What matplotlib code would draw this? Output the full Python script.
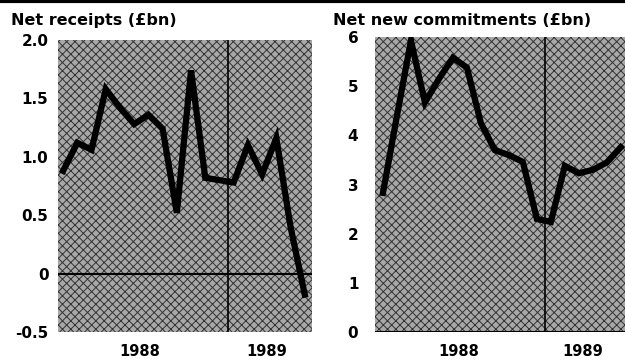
import matplotlib.pyplot as plt
from matplotlib.patches import Rectangle

# data (roughly monthly points, index 0..17)
receipts = [0.88, 1.12, 1.06, 1.58, 1.42, 1.28, 1.36, 1.24, 0.52, 1.74,
            0.82, 0.80, 0.78, 1.10, 0.85, 1.16, 0.40, -0.18]
commitments = [2.83, 4.4, 5.93, 4.67, 5.15, 5.58, 5.38, 4.25, 3.7, 3.6,
               3.46, 2.3, 2.24, 3.38, 3.23, 3.3, 3.45, 3.76]
year_pos = [5.4, 14.3]
year_labels = ["1988", "1989"]
divider = 11.6

left_ticks = [-0.5, 0, 0.5, 1.0, 1.5, 2.0]
left_ticklabels = ["-0.5", "0", "0.5", "1.0", "1.5", "2.0"]
right_ticks = [0, 1, 2, 3, 4, 5, 6]
right_ticklabels = ["0", "1", "2", "3", "4", "5", "6"]

plt.rcParams['font.family'] = ['DejaVu Sans']
plt.rcParams['hatch.linewidth'] = 0.7

fig = plt.figure(figsize=(6.25, 3.64), dpi=100)
fig.patch.set_facecolor('white')

ax1 = fig.add_axes([0.093, 0.088, 0.406, 0.802])
ax2 = fig.add_axes([0.600, 0.088, 0.400, 0.810])


def style(ax, y, ticks, labels, ylim, xlim):
    ax.set_facecolor('#a8a8a8')
    ax.add_patch(Rectangle((0, 0), 1, 1, transform=ax.transAxes, facecolor='none',
                           edgecolor='#333333', hatch='xxxx', linewidth=0, zorder=0.5))
    ax.plot(range(len(y)), y, color='black', linewidth=4.5, solid_joinstyle='miter', zorder=3)
    ax.axvline(divider, color='black', linewidth=1.2, zorder=2)
    ax.axhline(0, color='black', linewidth=1.5, zorder=2)
    ax.set_xlim(*xlim)
    ax.set_ylim(*ylim)
    ax.set_yticks(ticks)
    ax.set_yticklabels(labels, fontsize=11, fontweight='bold')
    ax.set_xticks(year_pos)
    ax.set_xticklabels(year_labels, fontsize=10.5, fontweight='bold')
    ax.tick_params(length=0, pad=7)
    ax.tick_params(axis='x', pad=9)
    for s in ax.spines.values():
        s.set_visible(False)


style(ax1, receipts, left_ticks, left_ticklabels, (-0.5, 2.0), (-0.35, 17.5))
style(ax2, commitments, right_ticks, right_ticklabels, (0, 6), (-0.57, 17.3))
ax2.tick_params(axis='y', pad=12)

fig.text(0.018, 0.945, "Net receipts (£bn)", fontsize=11.5, fontweight='bold',
         ha='left', va='center')
fig.text(0.533, 0.945, "Net new commitments (£bn)", fontsize=11.5, fontweight='bold',
         ha='left', va='center')
fig.add_artist(plt.Line2D([0, 1], [0.996, 0.996], color='black', linewidth=3,
                          transform=fig.transFigure))

fig.savefig("out.png", dpi=100)
